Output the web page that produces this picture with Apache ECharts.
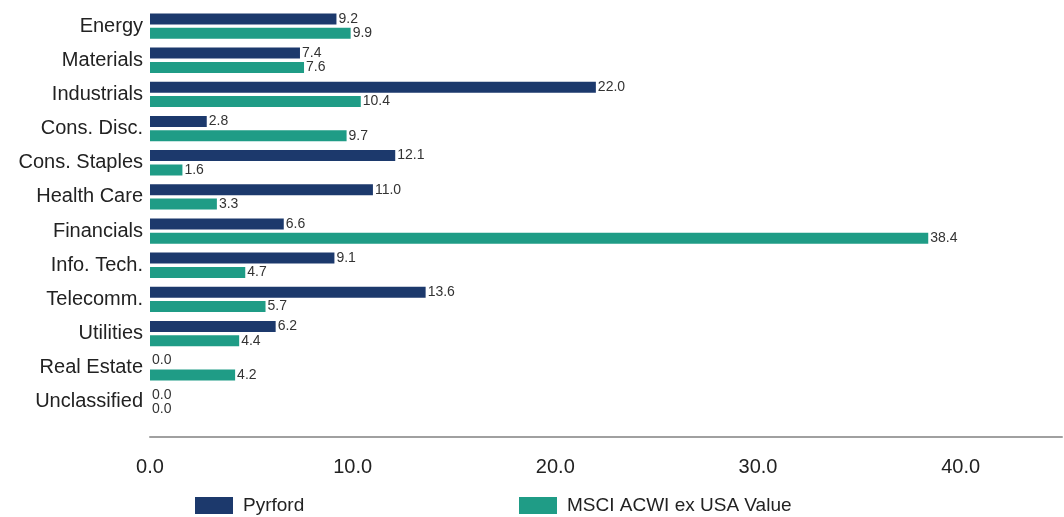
<!DOCTYPE html>
<html><head><meta charset="utf-8">
<script src="https://cdn.jsdelivr.net/npm/echarts@6/dist/echarts.min.js"></script>
<style>html,body{margin:0;padding:0;background:#fff}#c{width:1064px;height:517px}</style>
</head><body><div id="c"></div>
<script>
const categories = ['Energy','Materials','Industrials','Cons. Disc.','Cons. Staples','Health Care','Financials','Info. Tech.','Telecomm.','Utilities','Real Estate','Unclassified'];
const pyrford = [9.2,7.4,22.0,2.8,12.1,11.0,6.6,9.1,13.6,6.2,0.0,0.0];
const msci = [9.9,7.6,10.4,9.7,1.6,3.3,38.4,4.7,5.7,4.4,4.2,0.0];
const seriesNames = ['Pyrford','MSCI ACWI ex USA Value'];
const xTicks = [0,10,20,30,40];

const navy = '#1c396c', teal = '#1f9c86';
const font = '"Liberation Sans",Arial,sans-serif';
const labelStyle = {show:true, position:'right', distance:2, color:'#333', fontFamily:font, fontSize:14, formatter:p=>p.value.toFixed(1)};
const chart = echarts.init(document.getElementById('c'));
chart.setOption({
  animation:false,
  grid:{left:150, right:2, top:9, height:410},
  xAxis:{type:'value', min:0, max:45, interval:10, offset:18,
    axisLine:{show:true, lineStyle:{color:'#a0a0a0', width:2}},
    axisTick:{show:false}, splitLine:{show:false},
    axisLabel:{margin:20, color:'#222', fontSize:20, fontFamily:font, showMaxLabel:false,
      formatter:v=>xTicks.includes(v)?v.toFixed(1):''}},
  yAxis:{type:'category', data:categories, inverse:true,
    axisLine:{show:false}, axisTick:{show:false},
    axisLabel:{margin:7, color:'#222', fontSize:20, fontFamily:font}},
  legend:[
    {data:[seriesNames[0]], icon:'rect', left:190, top:491, itemWidth:38, itemHeight:17, itemGap:10,
      textStyle:{fontSize:19, color:'#222', fontFamily:font, padding:[0,0,0,5]}},
    {data:[seriesNames[1]], icon:'rect', left:514, top:491, itemWidth:38, itemHeight:17, itemGap:10,
      textStyle:{fontSize:19, color:'#222', fontFamily:font, padding:[0,0,0,5]}}
  ],
  series:[
    {name:seriesNames[0], type:'bar', data:pyrford, barWidth:11, barGap:'30%', itemStyle:{color:navy}, label:labelStyle},
    {name:seriesNames[1], type:'bar', data:msci, barWidth:11, barGap:'30%', itemStyle:{color:teal}, label:labelStyle}
  ]
});
</script></body></html>
